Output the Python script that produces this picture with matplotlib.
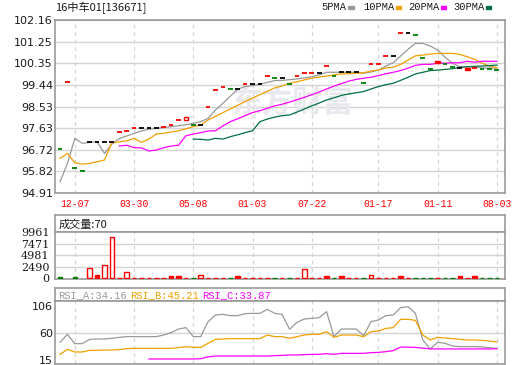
import numpy as np
import matplotlib.pyplot as plt
from matplotlib.patches import Rectangle

plt.rcParams['font.family'] = ['DejaVu Sans']

# ---- values ----
title = '16中车01[136671]'
date_idx = [2, 10, 18, 26, 34, 43, 51, 59]
date_lbl = ['12-07', '03-30', '05-08', '01-03', '07-22', '01-17', '01-11', '08-03']
price_ticks = [94.91, 95.82, 96.72, 97.63, 98.53, 99.44, 100.35, 101.25, 102.16]
vol_ticks = [0, 2490, 4981, 7471, 9961]
rsi_ticks = [15, 60, 106]

close = [96.74, 99.56, 95.94, 95.82, 97.03, 97.03, 97.03, 97.03, 97.45, 97.51,
         97.62, 97.62, 97.62, 97.62, 97.66, 97.75, 97.97, 98.04, 97.75, 97.75,
         98.50, 99.21, 99.34, 99.26, 99.26, 99.46, 99.46, 99.46, 99.80, 99.72,
         99.72, 99.46, 99.80, 99.93, 99.93, 99.93, 100.22, 99.80, 99.97, 99.97,
         99.97, 99.51, 100.30, 100.30, 100.65, 100.65, 101.60, 101.60, 101.52, 100.55,
         100.09, 100.39, 100.30, 100.20, 100.14, 100.11, 100.14, 100.09, 100.09, 100.05]
# r = up, g = down, k = flat
bar_col = 'grggkkkkrr' 'rkkkrrrrgk' 'rrrgkrkkrg' 'kgrrrkrgkk' 'kgrrrkrkgg' 'grggkrrggg'
# bars that show a body: index -> (low, high, hollow)
bodies = {17: (97.98, 98.10, True), 51: (100.35, 100.43, False), 55: (100.07, 100.15, False)}

ma5 = [95.38, 96.15, 97.20, 96.99, 97.03, 97.06, 96.57, 96.96, 97.19, 97.30,
       97.41, 97.51, 97.58, 97.62, 97.65, 97.69, 97.73, 97.77, 97.83, 97.90,
       98.04, 98.39, 98.67, 98.97, 99.26, 99.37, 99.41, 99.46, 99.55, 99.62,
       99.63, 99.66, 99.69, 99.73, 99.78, 99.86, 99.97, 99.97, 99.97, 99.97,
       99.97, 99.93, 99.98, 100.06, 100.23, 100.37, 100.65, 100.93, 101.18, 101.18,
       101.07, 100.90, 100.60, 100.35, 100.20, 100.19, 100.19, 100.15, 100.15, 100.14]
ma10 = [96.36, 96.57, 96.18, 96.12, 96.15, 96.22, 96.29, 97.01, 97.05, 97.10,
        97.20, 97.03, 97.17, 97.38, 97.41, 97.47, 97.52, 97.60, 97.69, 97.76,
        97.97, 98.12, 98.28, 98.43, 98.59, 98.74, 98.89, 99.03, 99.17, 99.32,
        99.39, 99.51, 99.57, 99.65, 99.72, 99.77, 99.81, 99.86, 99.90, 99.91,
        99.93, 99.95, 100.02, 100.06, 100.15, 100.18, 100.30, 100.48, 100.66, 100.69,
        100.73, 100.76, 100.76, 100.76, 100.72, 100.62, 100.51, 100.35, 100.23, 100.16]
ma20 = [np.nan] * 8 + [
        96.88, 96.91, 96.81, 96.80, 96.67, 96.71, 96.81, 96.88, 96.91, 97.31,
        97.38, 97.44, 97.51, 97.52, 97.72, 97.90, 98.02, 98.15, 98.28, 98.36,
        98.46, 98.56, 98.63, 98.72, 98.82, 98.92, 99.03, 99.14, 99.27, 99.39,
        99.49, 99.60, 99.67, 99.72, 99.76, 99.83, 99.91, 99.97, 100.04, 100.14,
        100.26, 100.30, 100.30, 100.35, 100.35, 100.37, 100.37, 100.43, 100.39, 100.43,
        100.43, 100.43]
ma30 = [np.nan] * 18 + [
        97.17, 97.16, 97.13, 97.20, 97.17, 97.27, 97.35, 97.44, 97.52, 97.90,
        98.01, 98.09, 98.15, 98.18, 98.30, 98.43, 98.56, 98.68, 98.81, 98.90,
        99.00, 99.06, 99.11, 99.16, 99.27, 99.37, 99.45, 99.51, 99.63, 99.76,
        99.90, 99.97, 100.04, 100.06, 100.09, 100.12, 100.18, 100.20, 100.22, 100.23,
        100.25, 100.27]

vol = [200, 0, 200, 0, 2130, 640, 2770, 8950, 100, 1280,
       100, 100, 100, 100, 100, 400, 400, 100, 100, 600,
       100, 100, 100, 100, 400, 100, 100, 100, 100, 100,
       100, 100, 100, 1900, 100, 100, 400, 100, 400, 100,
       100, 100, 600, 100, 100, 100, 400, 100, 100, 100,
       100, 100, 100, 100, 400, 100, 400, 100, 100, 70]
vol_hollow = [4, 6, 7, 9, 19, 33, 42]

rsi_a = [44.6, 58.2, 42.4, 42.4, 49.7, 50.3, 50.3, 51.4, 53.1, 54.3,
         54.3, 54.3, 54.3, 54.3, 57.1, 61.1, 67.3, 69.6, 54.3, 54.3,
         79.8, 91.1, 92.2, 90.0, 90.0, 93.4, 93.9, 93.9, 100.7, 93.9,
         92.2, 66.7, 78.6, 84.3, 85.4, 86.6, 96.8, 54.3, 67.3, 67.3,
         67.3, 56.0, 79.8, 82.6, 90.0, 91.1, 103.6, 105.3, 93.9, 48.6,
         33.3, 44.6, 42.9, 38.4, 37.3, 37.3, 37.3, 36.7, 35.5, 34.16]
rsi_b = [24.2, 32.7, 28.2, 28.2, 31.0, 31.0, 31.6, 31.6, 32.2, 33.9,
         34.4, 34.4, 34.4, 34.4, 34.4, 34.4, 35.6, 37.3, 36.1, 36.1,
         42.9, 49.7, 50.3, 50.9, 50.9, 50.9, 50.9, 50.9, 57.1, 54.3,
         54.3, 51.4, 54.3, 57.1, 58.2, 58.2, 62.8, 53.1, 57.1, 57.1,
         57.1, 54.3, 62.8, 63.9, 68.4, 69.6, 83.7, 83.7, 82.0, 57.1,
         48.6, 53.1, 52.0, 50.9, 49.7, 48.6, 48.6, 48.0, 46.9, 45.21]
rsi_c = [np.nan] * 12 + [
         16.3, 16.3, 16.3, 16.3, 16.3, 16.3, 16.3, 16.8, 19.9, 21.4,
         21.4, 21.4, 21.4, 21.4, 21.4, 21.4, 21.4, 22.0, 22.5, 23.1,
         23.1, 23.7, 24.2, 24.2, 25.4, 24.2, 25.9, 25.9, 25.9, 25.9,
         27.1, 27.6, 28.8, 30.5, 36.5, 36.5, 36.0, 34.8, 33.6, 33.4,
         33.4, 33.4, 33.4, 33.4, 33.4, 33.4, 33.4, 33.87]

# ---- styling ----
RED, GRN, BLK = '#ff0000', '#008000', '#000000'
cmap = {'r': RED, 'g': GRN, 'k': BLK}
ma_cols = ['#999999', '#f0a000', '#ff00ff', '#007040']
SPINE = '#999999'
GRID = '#d4d4d4'
x = np.arange(len(close))

fig = plt.figure(figsize=(5.2, 3.65), dpi=100)


def box(l, t, r, b):
    return [l / 520, 1 - b / 365, (r - l) / 520, (b - t) / 365]


ax = fig.add_axes(box(55, 20, 505, 193))
vh = fig.add_axes(box(55, 215, 505, 232.3))
vax = fig.add_axes(box(55, 232.3, 505, 279))
rh = fig.add_axes(box(55, 288.3, 505, 301))
rax = fig.add_axes(box(55, 301, 505, 364))

for a in (ax, vh, vax, rh, rax):
    a.set_xlim(-0.68, 60.1)
    for s in a.spines.values():
        s.set_color(SPINE)
        s.set_linewidth(1.2)
    a.tick_params(length=0, labelsize=8, labelcolor='#1a1a1a')
    a.set_xticks([])
for a in (vh, rh):
    a.set_yticks([])
    a.set_ylim(0, 1)
for a in (ax, vax, rax):
    for xi in date_idx:
        a.axvline(xi, color=GRID, lw=0.9, ls=(0, (3, 3)), zorder=0)

# main price panel
ax.set_ylim(94.91, 102.16)
ax.set_yticks(price_ticks)
ax.set_yticklabels(['%.2f' % v for v in price_ticks])
ax.tick_params(axis='y', pad=1.5)
for v in price_ticks:
    ax.axhline(v, color=GRID, lw=1, zorder=0)
ax.set_xticks(date_idx)
ax.set_xticklabels(date_lbl, color=RED, fontsize=7, family='Liberation Mono')
ax.tick_params(axis='x', pad=4.5)

ax.text(0.527, 0.52, '东方财富', transform=ax.transAxes, ha='center', va='center',
        fontsize=22, fontweight='bold', color='#e8e8ee', family='Noto Sans CJK SC', zorder=0)

for ma, c in zip([ma5, ma10, ma20, ma30], ma_cols):
    ax.plot(x, ma, color=c, lw=0.9, zorder=2)

for i, p in enumerate(close):
    c = cmap[bar_col[i]]
    if i in bodies:
        lo, hi, hollow = bodies[i]
        ax.add_patch(Rectangle((i - 0.32, lo), 0.64, hi - lo, facecolor='white' if hollow else c,
                               edgecolor=c, lw=1, zorder=3))
    else:
        ax.hlines(p, i - 0.32, i + 0.32, color=c, lw=1.3, zorder=3)

fig.text(55 / 520, 1 - 7.5 / 365, title, va='center', fontsize=8, color='#1a1a1a',
         family=['Noto Sans CJK SC', 'DejaVu Sans'])

leg = [('5PMA', 321.7), ('10PMA', 363.3), ('20PMA', 408.3), ('30PMA', 453.3)]
for (lbl, lx), c in zip(leg, ma_cols):
    fig.text(lx / 520, 1 - 7.5 / 365, lbl, va='center', fontsize=7.5,
             family='Liberation Mono', color='#1a1a1a')
    rx = lx + 6.1 * len(lbl) + 2
    fig.patches.append(Rectangle((rx / 520, 1 - 8.5 / 365), 5.5 / 520, 3 / 365,
                                 transform=fig.transFigure, color=c, figure=fig))

# volume panel
vh.text(3.5 / 450, 0.45, '成交量:%d' % vol[-1], transform=vh.transAxes, va='center',
        fontsize=8, color='#1a1a1a', family=['Noto Sans CJK SC', 'DejaVu Sans'])
vax.set_ylim(-160, 9961)
vax.set_yticks(vol_ticks)
vax.set_yticklabels([str(v) for v in vol_ticks], family='DejaVu Serif')
vax.tick_params(axis='y', pad=4)
for v in vol_ticks[1:-1]:
    vax.axhline(v, color=GRID, lw=1, zorder=0)
for i, v in enumerate(vol):
    if v == 0:
        continue
    c = GRN if bar_col[i] == 'g' else RED
    face = 'white' if i in vol_hollow else c
    vax.bar(i, v, width=0.62, facecolor=face, edgecolor=c, lw=1.0, zorder=3)

# RSI panel
rh.text(3.5 / 450, 0.45, 'RSI_A:%.2f' % rsi_a[-1], transform=rh.transAxes, va='center',
        fontsize=7.5, color='#999999', family='Liberation Mono')
rh.text(75 / 450, 0.45, 'RSI_B:%.2f' % rsi_b[-1], transform=rh.transAxes, va='center',
        fontsize=7.5, color='#f0a000', family='Liberation Mono')
rh.text(147 / 450, 0.45, 'RSI_C:%.2f' % rsi_c[-1], transform=rh.transAxes, va='center',
        fontsize=7.5, color='#ff00ff', family='Liberation Mono')
rax.set_ylim(7.8, 114.9)
rax.set_yticks(rsi_ticks)
rax.tick_params(axis='y', pad=1.5)
rax.axhline(60, color=GRID, lw=1, zorder=0)
rax.plot(x, rsi_a, color='#999999', lw=0.9)
rax.plot(x, rsi_b, color='#f0a000', lw=0.9)
rax.plot(x, rsi_c, color='#ff00ff', lw=0.9)

fig.savefig('out.png', dpi=100, facecolor='white')
